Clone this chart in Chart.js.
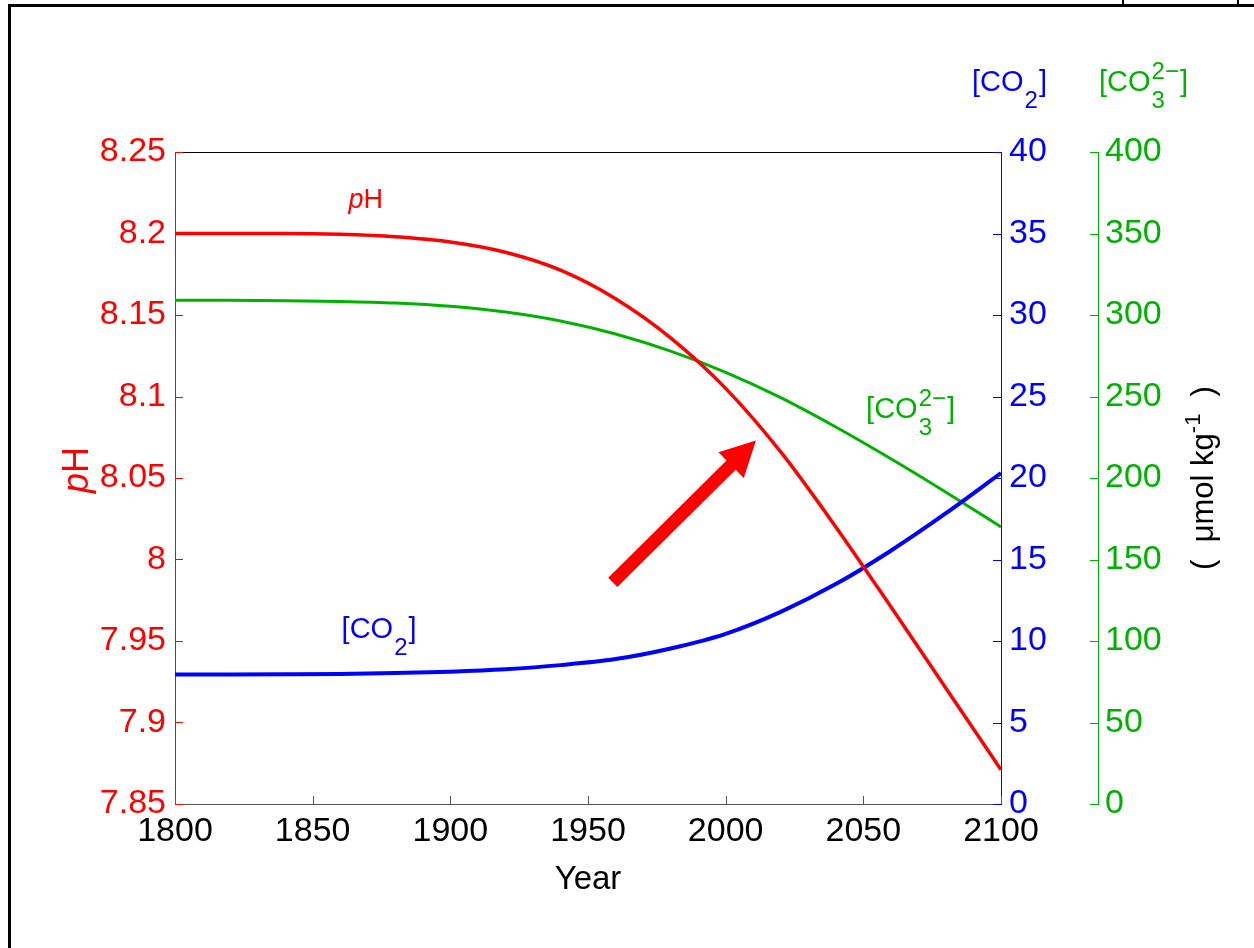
<!DOCTYPE html>
<html>
<head>
<meta charset="utf-8">
<script src="https://cdn.jsdelivr.net/npm/chart.js@4.4.0/dist/chart.umd.min.js"></script>
<style>
	html, body { margin: 0; padding: 0; background: #fff; }
	#wrap { width: 1254px; height: 948px; }
</style>
</head>
<body>
<div id="wrap"><canvas id="myChart" width="1254" height="948"></canvas></div>
<script>
	// values, every 20 years
	var years = [1800, 1820, 1840, 1860, 1880, 1900, 1920, 1940, 1960, 1980, 2000, 2020, 2040, 2060, 2080, 2100];
	var phValues = [8.200, 8.200, 8.200, 8.1995, 8.198, 8.1948, 8.1885, 8.1775, 8.160, 8.136, 8.105, 8.066, 8.020, 7.971, 7.921, 7.871];
	var co2Values = [7.95, 7.95, 7.96, 7.98, 8.03, 8.12, 8.27, 8.52, 8.89, 9.54, 10.44, 11.79, 13.49, 15.54, 17.84, 20.30];
	var co3Values = [309, 309, 308.8, 308.3, 307.3, 305.3, 301.8, 296.3, 288.3, 277.8, 264.8, 249.3, 231.3, 211.8, 191.3, 170];

	var yearTicks = [1800, 1850, 1900, 1950, 2000, 2050, 2100];
	var phTicks = [7.85, 7.9, 7.95, 8, 8.05, 8.1, 8.15, 8.2, 8.25];
	var co2Ticks = [0, 5, 10, 15, 20, 25, 30, 35, 40];
	var co3Ticks = [0, 50, 100, 150, 200, 250, 300, 350, 400];

	// arrow and in-plot labels, in data units
	var arrowFrom = [1959, 7.986];
	var arrowTo = [2011, 8.073];
	var phLabelAt = [1863, 8.2156];
	var co2LabelAt = [1860.5, 10.2];
	var co3LabelAt = [2051, 236.8];

	var FONT = '"Liberation Sans", Arial, sans-serif';
	var RED = '#ff0000', BLUE = '#0000ff', GREEN = 'rgb(0,178,0)';

	var toPoints = function (vals) {
		return years.map(function (y, i) { return { x: y, y: vals[i] }; });
	};
	var useTicks = function (list) {
		return function (scale) {
			scale.ticks = list.map(function (v) { return { value: v }; });
		};
	};
	var fmt = function (v) { return String(parseFloat(Number(v).toFixed(2))); };

	var drawSpecies = function (ctx, x, y, sub, sup, size) {
		var small = Math.round(size * 0.82);
		ctx.textAlign = 'left';
		ctx.textBaseline = 'alphabetic';
		ctx.font = size + 'px ' + FONT;
		ctx.fillText('[CO', x, y);
		x += ctx.measureText('[CO').width + 1;
		ctx.font = small + 'px ' + FONT;
		var w = ctx.measureText(sub).width;
		ctx.fillText(sub, x, y + size * 0.58);
		if (sup) {
			ctx.fillText(sup, x, y - size * 0.42);
			w = Math.max(w, ctx.measureText(sup).width);
		}
		x += w + 1;
		ctx.font = size + 'px ' + FONT;
		ctx.fillText(']', x, y);
	};

	var line = function (ctx, x1, y1, x2, y2, color, width) {
		ctx.beginPath();
		ctx.strokeStyle = color;
		ctx.lineWidth = width;
		ctx.moveTo(x1, y1);
		ctx.lineTo(x2, y2);
		ctx.stroke();
	};

	var decorations = {
		id: 'decorations',
		afterDatasetsDraw: function (chart) {
			var ctx = chart.ctx;
			var a = chart.chartArea;
			var sx = chart.scales.x, sp = chart.scales.yPH, sc = chart.scales.yCO2, sg = chart.scales.yCO3;
			ctx.save();

			// plot box top and tick marks
			line(ctx, a.left, a.top + 0.5, a.right, a.top + 0.5, '#000', 1);
			phTicks.forEach(function (v) {
				var y = Math.round(sp.getPixelForValue(v)) + 0.5;
				line(ctx, a.left, y, a.left + 8, y, RED, 1);
			});
			co2Ticks.forEach(function (v) {
				var y = Math.round(sc.getPixelForValue(v)) + 0.5;
				line(ctx, a.right, y, a.right - 8, y, BLUE, 1);
			});
			co3Ticks.forEach(function (v) {
				var y = Math.round(sg.getPixelForValue(v)) + 0.5;
				line(ctx, sg.left, y, sg.left - 8, y, GREEN, 1);
			});
			yearTicks.forEach(function (v) {
				var x = Math.round(sx.getPixelForValue(v)) + 0.5;
				line(ctx, x, a.bottom, x, a.bottom - 8, '#555', 1);
			});

			// arrow
			var x1 = sx.getPixelForValue(arrowFrom[0]), y1 = sp.getPixelForValue(arrowFrom[1]);
			var x2 = sx.getPixelForValue(arrowTo[0]), y2 = sp.getPixelForValue(arrowTo[1]);
			var ang = Math.atan2(y2 - y1, x2 - x1);
			var len = Math.hypot(x2 - x1, y2 - y1);
			ctx.translate(x1, y1);
			ctx.rotate(ang);
			ctx.fillStyle = RED;
			ctx.beginPath();
			ctx.moveTo(0, -6.5);
			ctx.lineTo(len - 35, -6.5);
			ctx.lineTo(len - 35, -18);
			ctx.lineTo(len, 0);
			ctx.lineTo(len - 35, 18);
			ctx.lineTo(len - 35, 6.5);
			ctx.lineTo(0, 6.5);
			ctx.closePath();
			ctx.fill();
			ctx.setTransform(1, 0, 0, 1, 0, 0);

			// in-plot labels
			ctx.textBaseline = 'alphabetic';
			ctx.textAlign = 'left';
			ctx.fillStyle = RED;
			var px = sx.getPixelForValue(phLabelAt[0]), py = sp.getPixelForValue(phLabelAt[1]);
			ctx.font = 'italic 27px ' + FONT;
			ctx.fillText('p', px, py);
			px += ctx.measureText('p').width;
			ctx.font = '27px ' + FONT;
			ctx.fillText('H', px, py);

			ctx.fillStyle = BLUE;
			drawSpecies(ctx, sx.getPixelForValue(co2LabelAt[0]), sc.getPixelForValue(co2LabelAt[1]), '2', null, 29);
			ctx.fillStyle = GREEN;
			drawSpecies(ctx, sx.getPixelForValue(co3LabelAt[0]), sg.getPixelForValue(co3LabelAt[1]), '3', '2\u2212', 29);

			// axis titles
			ctx.fillStyle = BLUE;
			drawSpecies(ctx, a.right - 29, 91, '2', null, 29);
			ctx.fillStyle = GREEN;
			drawSpecies(ctx, sg.left + 1, 91, '3', '2\u2212', 29);

			ctx.fillStyle = '#000';
			ctx.font = '33px ' + FONT;
			ctx.textAlign = 'center';
			ctx.fillText('Year', (a.left + a.right) / 2, 889);

			// rotated pH title
			ctx.translate(88, 470);
			ctx.rotate(-Math.PI / 2);
			ctx.textAlign = 'left';
			ctx.font = 'italic 36px ' + FONT;
			var wp = ctx.measureText('p').width;
			ctx.font = '36px ' + FONT;
			var wh = ctx.measureText('H').width;
			ctx.fillStyle = RED;
			ctx.font = 'italic 36px ' + FONT;
			ctx.fillText('p', -(wp + wh) / 2, 0);
			ctx.font = '36px ' + FONT;
			ctx.fillText('H', -(wp + wh) / 2 + wp, 0);
			ctx.setTransform(1, 0, 0, 1, 0, 0);

			// rotated units title
			ctx.translate(1213, 478);
			ctx.rotate(-Math.PI / 2);
			ctx.fillStyle = '#000';
			ctx.font = '31px ' + FONT;
			var t1 = '(  \u03bcmol kg', t3 = '  )';
			var w1 = ctx.measureText(t1).width, w3 = ctx.measureText(t3).width;
			ctx.font = '22px ' + FONT;
			var w2 = ctx.measureText('-1').width;
			var x0 = -(w1 + w2 + w3) / 2;
			ctx.font = '31px ' + FONT;
			ctx.fillText(t1, x0, 0);
			ctx.fillText(t3, x0 + w1 + w2, 0);
			ctx.font = '22px ' + FONT;
			ctx.fillText('-1', x0 + w1, -13);
			ctx.setTransform(1, 0, 0, 1, 0, 0);

			// page frame and the clipped box at top right
			line(ctx, 9.5, 5.5, 1254, 5.5, '#000', 3);
			line(ctx, 9.5, 4, 9.5, 948, '#000', 3);
			line(ctx, 1123, 0, 1123, 5, '#000', 2);
			line(ctx, 1238, 0, 1238, 5, '#000', 2);

			ctx.restore();
		}
	};

	var tickFont = { size: 34, family: FONT };

	var myChart = new Chart(document.getElementById('myChart'), {
		type: 'line',
		data: {
			datasets: [
				{ label: 'pH', data: toPoints(phValues), yAxisID: 'yPH', borderColor: RED, borderWidth: 3.5 },
				{ label: 'CO2', data: toPoints(co2Values), yAxisID: 'yCO2', borderColor: BLUE, borderWidth: 4 },
				{ label: 'CO3', data: toPoints(co3Values), yAxisID: 'yCO3', borderColor: GREEN, borderWidth: 3 }
			]
		},
		options: {
			responsive: false,
			animation: false,
			devicePixelRatio: 1,
			layout: { padding: { top: 152, left: 0, right: 0, bottom: 0 } },
			elements: {
				point: { radius: 0 },
				line: { cubicInterpolationMode: 'monotone', fill: false }
			},
			plugins: { legend: { display: false }, tooltip: { enabled: false } },
			scales: {
				x: {
					type: 'linear', position: 'bottom', min: 1800, max: 2100,
					afterBuildTicks: useTicks(yearTicks),
					afterFit: function (s) { s.height = 144; },
					grid: { display: false, drawTicks: false },
					border: { display: true, color: '#555', width: 1 },
					ticks: { color: '#000', font: tickFont, padding: 7, maxRotation: 0, autoSkip: false, callback: fmt }
				},
				yPH: {
					type: 'linear', position: 'left', min: 7.85, max: 8.25,
					afterBuildTicks: useTicks(phTicks),
					afterFit: function (s) { s.width = 175; },
					grid: { display: false, drawTicks: false },
					border: { display: true, color: RED, width: 1 },
					ticks: { color: RED, font: tickFont, padding: 9, autoSkip: false, callback: fmt }
				},
				yCO2: {
					type: 'linear', position: 'right', weight: 0, min: 0, max: 40,
					afterBuildTicks: useTicks(co2Ticks),
					afterFit: function (s) { s.width = 97; },
					grid: { display: false, drawTicks: false },
					border: { display: true, color: BLUE, width: 1 },
					ticks: { color: BLUE, font: tickFont, padding: 8, autoSkip: false, callback: fmt }
				},
				yCO3: {
					type: 'linear', position: 'right', weight: 1, min: 0, max: 400,
					afterBuildTicks: useTicks(co3Ticks),
					afterFit: function (s) { s.width = 156; },
					grid: { display: false, drawTicks: false },
					border: { display: true, color: GREEN, width: 1 },
					ticks: { color: GREEN, font: tickFont, padding: 7, autoSkip: false, callback: fmt }
				}
			}
		},
		plugins: [decorations]
	});
</script>
</body>
</html>
